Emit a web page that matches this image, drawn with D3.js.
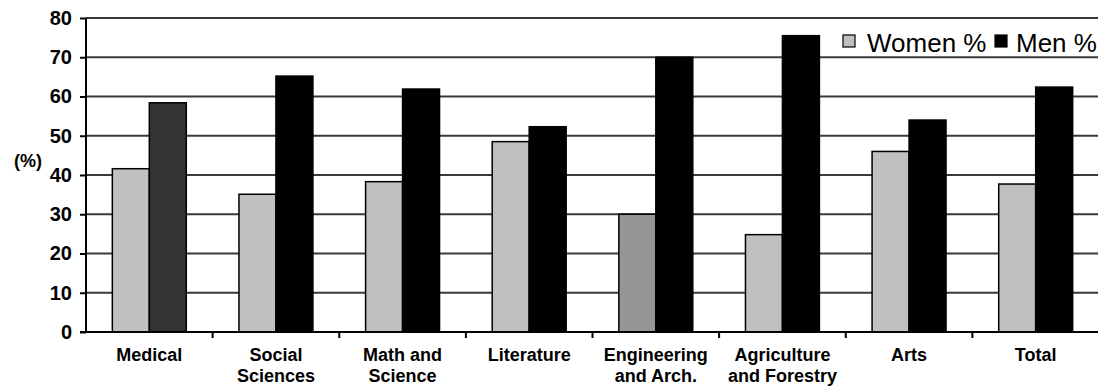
<html>
  <head>
    <title>Women and Men by Field</title>
    <script type="text/javascript" src="https://cdn.jsdelivr.net/npm/d3@7"></script>
    <style type="text/css">

body {
  margin: 0;
  background: #fff;
}

text {
  font-family: "Liberation Sans", Arial, sans-serif;
}

    </style>
  </head>
  <body>
    <script type="text/javascript">

var categories = [
  ["Medical"],
  ["Social", "Sciences"],
  ["Math and", "Science"],
  ["Literature"],
  ["Engineering", "and Arch."],
  ["Agriculture", "and Forestry"],
  ["Arts"],
  ["Total"]
];
var women = [41.6, 35.1, 38.3, 48.5, 30.0, 24.8, 46.0, 37.7];
var men = [58.4, 65.2, 61.9, 52.3, 70.0, 75.5, 54.0, 62.4];
var yTicks = [0, 10, 20, 30, 40, 50, 60, 70, 80];
var seriesNames = ["Women %", "Men %"];

var w = 1098,
    h = 387,
    x0 = 86,
    x1 = 1099,
    y0 = 332,
    y1 = 18;

var names = categories.map(function(d) { return d.join(" "); });

var x = d3.scaleBand()
    .domain(names)
    .range([x0, x1])
    .paddingInner(0.416)
    .paddingOuter(0.208);

var y = d3.scaleLinear()
    .domain([0, 80])
    .range([y0, y1]);

var step = x.step(),
    bw = x.bandwidth() / 2;

var vis = d3.select("body")
  .append("svg")
    .attr("width", w)
    .attr("height", h);

// grid lines
vis.selectAll("line.grid")
    .data(yTicks.slice(1))
  .enter().append("line")
    .attr("class", "grid")
    .attr("x1", x0)
    .attr("x2", w)
    .attr("y1", function(d) { return y(d); })
    .attr("y2", function(d) { return y(d); })
    .attr("stroke", "#3a3a3a")
    .attr("stroke-width", 2);

// y axis
var yAxis = d3.axisLeft(y).tickValues(yTicks).tickSize(6).tickPadding(8);
var ga = vis.append("g")
    .attr("transform", "translate(" + x0 + ",0)")
    .call(yAxis);
ga.select(".domain").attr("stroke", "#000").attr("stroke-width", 2).attr("d", "M0," + y1 + "V" + y0);
ga.selectAll(".tick line").attr("stroke", "#000").attr("stroke-width", 2);
ga.selectAll(".tick text")
    .attr("fill", "#000")
    .style("font-size", "20px")
    .style("font-weight", "bold");

vis.append("text")
    .attr("x", 28)
    .attr("y", 167)
    .attr("text-anchor", "middle")
    .style("font-size", "18px")
    .style("font-weight", "bold")
    .text("(%)");

// bars
var groups = vis.selectAll("g.cat")
    .data(names)
  .enter().append("g")
    .attr("class", "cat");

groups.append("rect")
    .attr("x", function(d) { return x(d); })
    .attr("y", function(d, i) { return y(women[i]); })
    .attr("width", bw)
    .attr("height", function(d, i) { return y0 - y(women[i]); })
    .attr("fill", function(d, i) { return i == 4 ? "#969696" : "#c0c0c0"; })
    .attr("stroke", "#000")
    .attr("stroke-width", 1.5);

groups.append("rect")
    .attr("x", function(d) { return x(d) + bw; })
    .attr("y", function(d, i) { return y(men[i]); })
    .attr("width", bw)
    .attr("height", function(d, i) { return y0 - y(men[i]); })
    .attr("fill", function(d, i) { return i == 0 ? "#333333" : "#000"; })
    .attr("stroke", "#000")
    .attr("stroke-width", 1.5);

// x axis
vis.append("line")
    .attr("x1", x0 - 6)
    .attr("x2", w)
    .attr("y1", y0)
    .attr("y2", y0)
    .attr("stroke", "#000")
    .attr("stroke-width", 2);

vis.selectAll("line.xtick")
    .data(names.slice(1))
  .enter().append("line")
    .attr("x1", function(d) { return x(d) - step * 0.208; })
    .attr("x2", function(d) { return x(d) - step * 0.208; })
    .attr("y1", y0)
    .attr("y2", y0 + 6)
    .attr("stroke", "#000")
    .attr("stroke-width", 2);

var labels = vis.selectAll("text.xlab")
    .data(categories)
  .enter().append("text")
    .attr("class", "xlab")
    .attr("text-anchor", "middle")
    .style("font-size", "18px")
    .style("font-weight", "bold");

labels.selectAll("tspan")
    .data(function(d, i) { return d.map(function(s) { return {s: s, c: names[i]}; }); })
  .enter().append("tspan")
    .attr("x", function(d) { return x(d.c) + bw; })
    .attr("y", function(d, j) { return 361 + j * 21; })
    .text(function(d) { return d.s; });

// legend
var legend = vis.selectAll("g.legend")
    .data(seriesNames)
  .enter().append("g")
    .attr("class", "legend")
    .attr("transform", function(d, i) { return "translate(" + (i ? 995 : 843) + ",0)"; });

legend.append("rect")
    .attr("x", 0)
    .attr("y", 35)
    .attr("width", 12)
    .attr("height", 12)
    .attr("fill", function(d, i) { return i ? "#000" : "#c0c0c0"; })
    .attr("stroke", "#000")
    .attr("stroke-width", 1.2);

legend.append("text")
    .attr("x", function(d, i) { return i ? 21 : 24; })
    .attr("y", 52)
    .style("font-size", "26px")
    .attr("fill", "#000")
    .text(function(d) { return d; });

    </script>
  </body>
</html>
